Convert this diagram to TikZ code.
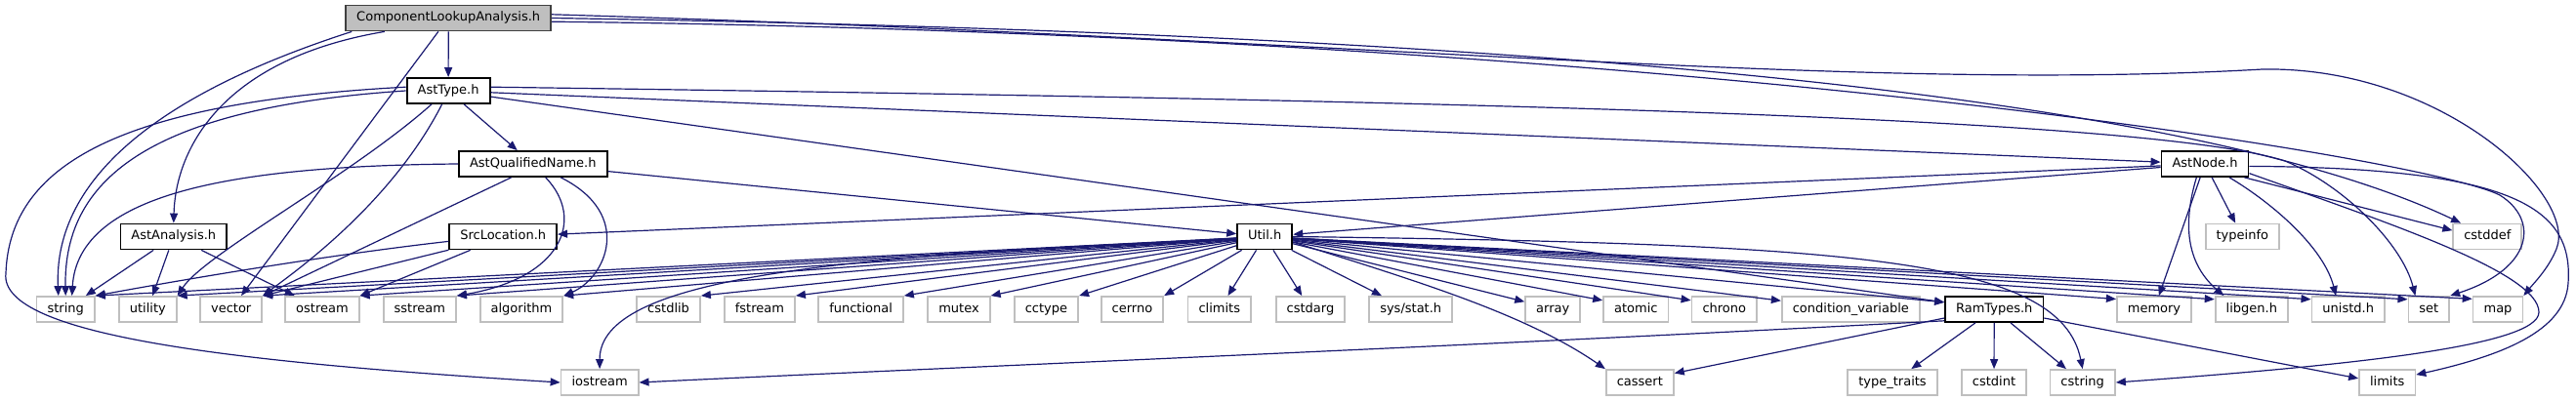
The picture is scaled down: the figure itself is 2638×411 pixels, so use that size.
\documentclass[tikz,border=0pt]{standalone}
\usepackage{fontspec}
\setmainfont{DejaVu Sans}
\usetikzlibrary{arrows.meta}

\definecolor{depblue}{HTML}{191970}
\definecolor{sysgray}{HTML}{BFBFBF}
\definecolor{rootgray}{HTML}{BFBFBF}
\definecolor{rootline}{HTML}{404040}

\begin{document}
\begin{tikzpicture}[x=0.5pt,y=-0.5pt,
  hfile/.style={draw=black,line width=0.9pt,fill=white,minimum height=13pt,
    inner xsep=5.5pt,inner ysep=0pt,text height=4.9pt,text depth=1.5pt,
    font=\fontsize{6.5pt}{7.5pt}\selectfont},
  sysfile/.style={hfile,draw=sysgray},
  rootfile/.style={hfile,draw=rootline,fill=rootgray},
  dep/.style={draw=depblue,line width=0.6pt,-{Triangle[length=5pt,width=4pt]}}]

  \useasboundingbox (0,0) rectangle (2638,411);

  % Project headers
  \node[rootfile] (cla) at (459.2,18.5) {ComponentLookupAnalysis.h};
  \node[hfile] (asttype) at (459.1,93) {AstType.h};
  \node[hfile] (astqname) at (545.8,168) {AstQualifiedName.h};
  \node[hfile] (astnode) at (2258,168) {AstNode.h};
  \node[hfile] (astanalysis) at (177.8,242.5) {AstAnalysis.h};
  \node[hfile] (srcloc) at (515.2,242.5) {SrcLocation.h};
  \node[hfile] (util) at (1295.2,242.5) {Util.h};
  \node[hfile] (ramtypes) at (2042.2,317) {RamTypes.h};

  % System headers
  \node[sysfile] (typeinfo) at (2296.3,242.5) {typeinfo};
  \node[sysfile] (cstddef) at (2547.3,242.5) {cstddef};
  \foreach \nm/\x in {string/67.2, utility/151.3, vector/236.7, ostream/330,
      sstream/429.8, algorithm/534, cstdlib/684.6, fstream/777.9,
      functional/881.6, mutex/982, cctype/1071.5, cerrno/1159.5,
      climits/1248.8, cstdarg/1342, array/1590.2, atomic/1675.3,
      chrono/1765.8, memory/2206, set/2487.3, map/2558}
    \node[sysfile] (\nm) at (\x,317) {\nm};
  \node[sysfile] (sysstat) at (1444.7,317) {sys/stat.h};
  \node[sysfile] (condvar) at (1895.3,317) {condition\_variable};
  \node[sysfile] (libgen) at (2305.8,317) {libgen.h};
  \node[sysfile] (unistd) at (2404.7,317) {unistd.h};
  \foreach \nm/\x in {iostream/614.1, cassert/1679.3, cstdint/2042,
      cstring/2132.7, limits/2444.7}
    \node[sysfile] (\nm) at (\x,392) {\nm};
  \node[sysfile] (typetraits) at (1938,392) {type\_traits};

  % ComponentLookupAnalysis.h includes
  \draw[dep] (cla) -- (asttype);
  \draw[dep] (cla.192) .. controls (230,60) and (180,150) .. (astanalysis.north);
  \draw[dep] (cla.188) .. controls (150,100) and (55,190) .. (string.118);
  \draw[dep] (cla) -- (vector);
  \draw[dep] (cla.0) .. controls (1600,35) and (2250,100) .. (cstddef.153);
  \draw[dep] (cla.-2) .. controls (1700,35) and (2480,160) .. (2560,200)
    .. controls (2600,225) and (2595,275) .. (set.north east);
  \draw[dep] (cla.2) .. controls (1400,40) and (1900,95) .. (2317,71)
    .. controls (2500,68) and (2640,200) .. (2618,255)
    .. controls (2610,275) and (2595,290) .. (map.north east);

  % AstType.h includes
  \draw[dep] (asttype) -- (astqname);
  \draw[dep] (asttype) -- (astnode);
  \draw[dep] (asttype) -- (ramtypes.172);
  \draw[dep] (asttype.5) .. controls (1500,103) and (2200,120) .. (2340,165)
    .. controls (2400,190) and (2460,250) .. (set.135);
  \draw[dep] (asttype.west) .. controls (160,110) and (65,180) .. (string.north);
  \draw[dep] (asttype.175) .. controls (120,105) and (10,170) .. (6,280)
    .. controls (-2,345) and (250,372) .. (iostream.west);
  \draw[dep] (asttype.219) .. controls (360,180) and (210,260) .. (utility.north east);
  \draw[dep] (asttype.245) .. controls (400,210) and (300,280) .. (vector.north east);

  % AstQualifiedName.h includes
  \draw[dep] (astqname) -- (util);
  \draw[dep] (astqname.west) .. controls (250,170) and (80,195) .. (string.65);
  \draw[dep] (astqname.212) -- (vector.north east);
  \draw[dep] (astqname.-47) .. controls (600,225) and (575,285) .. (sstream.north east);
  \draw[dep] (astqname.-26) .. controls (650,220) and (620,285) .. (algorithm.north east);

  % AstNode.h includes
  \draw[dep] (astnode) -- (util);
  \draw[dep] (astnode) -- (srcloc);
  \draw[dep] (astnode) -- (typeinfo);
  \draw[dep] (astnode) -- (memory);
  \draw[dep] (astnode.-122) .. controls (2232,240) and (2245,275) .. (libgen.154);
  \draw[dep] (astnode.-29) .. controls (2330,210) and (2380,255) .. (unistd.132);
  \draw[dep] (astnode.-19) -- (cstddef.170);
  \draw[dep] (astnode.-12) .. controls (2450,230) and (2600,280) .. (2600,320)
    .. controls (2600,355) and (2400,375) .. (cstring.east);
  \draw[dep] (astnode.-3) .. controls (2580,172) and (2635,215) .. (2630,290)
    .. controls (2627,340) and (2560,365) .. (limits.15);

  % AstAnalysis.h and SrcLocation.h includes
  \draw[dep] (astanalysis) -- (string);
  \draw[dep] (astanalysis) -- (utility);
  \draw[dep] (astanalysis) -- (ostream);
  \draw[dep] (srcloc.185) .. controls (330,262) and (180,288) .. (string.north east);
  \draw[dep] (srcloc) -- (vector.north east);
  \draw[dep] (srcloc) -- (ostream.north east);

  % Util.h includes
  \foreach \t in {string,utility,vector,ostream,sstream,algorithm,
      cstdlib,fstream,functional,mutex,cctype,cerrno}
    \draw[dep] (util) -- (\t.north east);
  \draw[dep] (util) -- (climits);
  \draw[dep] (util) -- (cstdarg);
  \draw[dep] (util) -- (sysstat.155);
  \foreach \t in {array,atomic,chrono,memory,libgen,unistd}
    \draw[dep] (util) -- (\t.165);
  \draw[dep] (util) -- (condvar.173);
  \draw[dep] (util) -- (ramtypes.172);
  \draw[dep] (util) -- (set.155);
  \draw[dep] (util) -- (map.158);
  \draw[dep] (util.185) .. controls (850,262) and (614,285) .. (iostream.north);
  \draw[dep] (util.-11) .. controls (1440,285) and (1560,320) .. (cassert.north west);
  \draw[dep] (util.east) .. controls (1900,250) and (2110,265) .. (cstring.north);

  % RamTypes.h includes
  \draw[dep] (ramtypes) -- (typetraits);
  \draw[dep] (ramtypes) -- (cstdint);
  \draw[dep] (ramtypes) -- (cstring);
  \draw[dep] (ramtypes.190) -- (cassert.15);
  \draw[dep] (ramtypes.193) .. controls (1500,355) and (900,380) .. (iostream.east);
  \draw[dep] (ramtypes.-10) -- (limits.172);

\end{tikzpicture}
\end{document}
